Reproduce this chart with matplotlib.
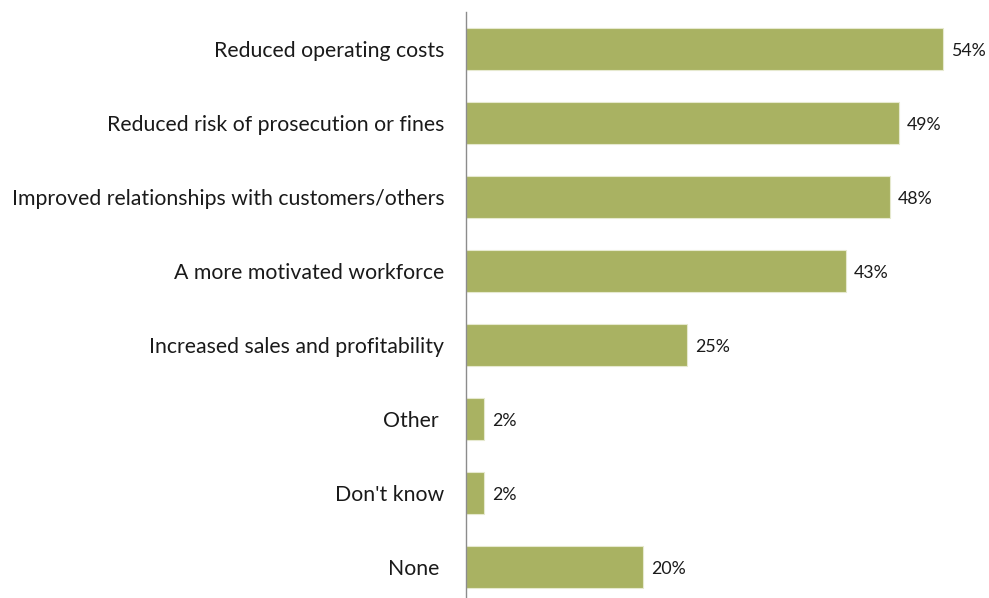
import matplotlib.pyplot as plt

labels = ["Reduced operating costs",
          "Reduced risk of prosecution or fines",
          "Improved relationships with customers/others",
          "A more motivated workforce",
          "Increased sales and profitability",
          "Other ",
          "Don't know",
          "None "]
values = [54, 49, 48, 43, 25, 2, 2, 20]

plt.rcParams['font.family'] = ['Lato', 'DejaVu Sans']

fig = plt.figure(figsize=(9.89, 5.98), dpi=100)
# axes box: left edge on the value axis line, bottom runs off the figure a little
ax = fig.add_axes([466 / 989, 0, 1 - 466 / 989, (598 - 12) / 598])

pos = list(range(len(labels)))
ax.barh(pos, values, height=0.57, color="#a9b262", edgecolor="#e6e9cf", linewidth=0.8)

for p, v in zip(pos, values):
    ax.text(v + 0.95, p + 0.03, f"{v}%", va="center", ha="left", fontsize=12.8, color="#1a1a1a")

ax.set_xlim(0, (989 - 466) / 8.83)
ax.set_ylim(7.5 - 6 / 74, -0.5)

ax.set_yticks(pos)
ax.set_yticklabels(labels, fontsize=15.3, color="#1a1a1a")
ax.tick_params(axis="y", length=0, pad=15.5)
ax.set_xticks([])

for side in ["top", "right", "bottom"]:
    ax.spines[side].set_visible(False)
ax.spines["left"].set_color("#8c8c8c")
ax.spines["left"].set_linewidth(1.0)

fig.savefig("out.png", dpi=100)
